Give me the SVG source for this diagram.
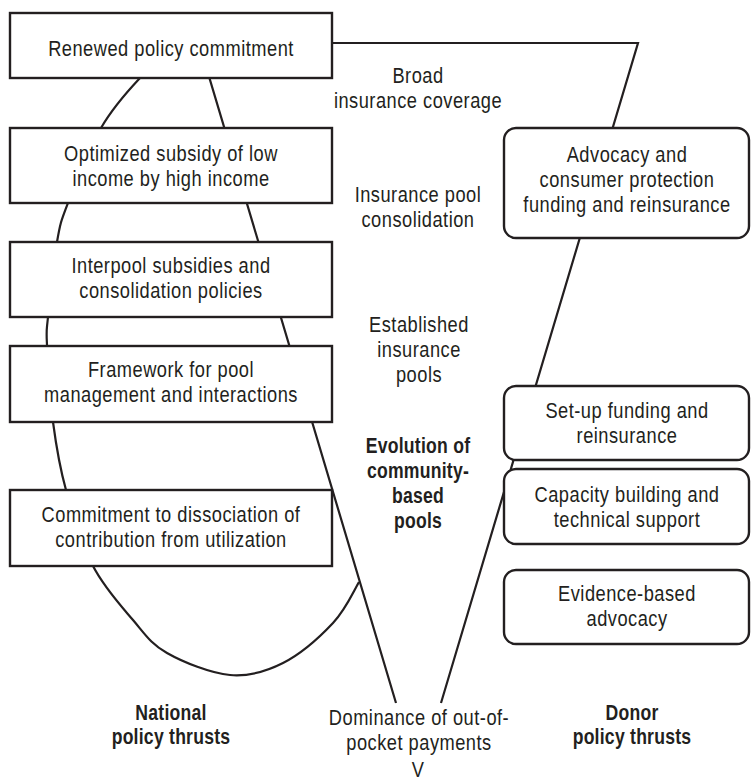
<svg xmlns="http://www.w3.org/2000/svg" width="752" height="780" viewBox="0 0 752 780">
  <style>
    .box { fill: #ffffff; stroke: #231f20; stroke-width: 2.4; }
    .line { fill: none; stroke: #231f20; stroke-width: 2.2; }
    text { font-family: "Liberation Sans", Arial, sans-serif; font-size: 22px; fill: #231f20; text-anchor: middle; letter-spacing: 0.6px;
           transform-box: fill-box; transform-origin: center; transform: scaleX(0.83); }
    .b { font-weight: bold; letter-spacing: 0.3px; transform: scaleX(0.8); }
  </style>
  <rect width="752" height="780" fill="#ffffff"/>

  <!-- connectors: the funnel and the national-policy oval -->
  <g id="connectors">
    <path id="funnel" class="line" d="M396 703 L199 43 L638 43 L441 703"/>
    <path id="oval" class="line" d="M170 55 C160.8 61.3 151.5 65.8 140 78 C128.5 90.2 113 107.2 101 128 C89 148.8 75.3 184 68 203 C60.7 222 60.3 223 57 242 C53.7 261 49.7 299.8 48 317 C46.3 334.2 46.2 327.5 47 345 C47.8 362.5 49.8 397.8 53 422 C56.2 446.2 59.3 466 66 490 C72.7 514 81.8 544.3 93 566 C104.2 587.7 120.7 605.5 133 620 C145.3 634.5 150.8 643.8 167 653 C183.2 662.2 210.7 673.3 230 675 C249.3 676.7 265.8 671.7 283 663 C300.2 654.3 320.3 636.5 333 623 C345.7 609.5 352.5 593.3 359 582"/>
  </g>

  <!-- national policy thrusts -->
  <g id="renewed">
    <rect class="box" x="10" y="13" width="322" height="65"/>
    <text x="171" y="56">Renewed policy commitment</text>
  </g>
  <g id="optimized">
    <rect class="box" x="10" y="128" width="322" height="75"/>
    <text x="171" y="161">Optimized subsidy of low</text>
    <text x="171" y="186">income by high income</text>
  </g>
  <g id="interpool">
    <rect class="box" x="10" y="242" width="322" height="75"/>
    <text x="171" y="273">Interpool subsidies and</text>
    <text x="171" y="298">consolidation policies</text>
  </g>
  <g id="framework">
    <rect class="box" x="10" y="346" width="322" height="76"/>
    <text x="171" y="377">Framework for pool</text>
    <text x="171" y="402">management and interactions</text>
  </g>
  <g id="commitment">
    <rect class="box" x="10" y="490" width="322" height="76"/>
    <text x="171" y="522">Commitment to dissociation of</text>
    <text x="171" y="547">contribution from utilization</text>
  </g>

  <!-- donor policy thrusts -->
  <g id="advocacy">
    <rect class="box" x="504" y="128" width="245" height="110" rx="12"/>
    <text x="627" y="162">Advocacy and</text>
    <text x="627" y="187">consumer protection</text>
    <text x="627" y="212">funding and reinsurance</text>
  </g>
  <g id="setup">
    <rect class="box" x="504" y="386" width="245" height="74" rx="12"/>
    <text x="627" y="418">Set-up funding and</text>
    <text x="627" y="443">reinsurance</text>
  </g>
  <g id="capacity">
    <rect class="box" x="504" y="469" width="245" height="75" rx="12"/>
    <text x="627" y="502">Capacity building and</text>
    <text x="627" y="527">technical support</text>
  </g>
  <g id="evidence">
    <rect class="box" x="504" y="570" width="245" height="74" rx="12"/>
    <text x="627" y="601">Evidence-based</text>
    <text x="627" y="626">advocacy</text>
  </g>

  <!-- stages of the funnel -->
  <g id="stage-broad">
    <text x="418" y="83">Broad</text>
    <text x="418" y="108">insurance coverage</text>
  </g>
  <g id="stage-consolidation">
    <text x="418" y="202">Insurance pool</text>
    <text x="418" y="227">consolidation</text>
  </g>
  <g id="stage-established">
    <text x="419" y="332">Established</text>
    <text x="419" y="357">insurance</text>
    <text x="419" y="382">pools</text>
  </g>
  <g id="stage-evolution">
    <text class="b" x="418" y="453">Evolution of</text>
    <text class="b" x="418" y="478">community-</text>
    <text class="b" x="418" y="503">based</text>
    <text class="b" x="418" y="528">pools</text>
  </g>
  <g id="stage-dominance">
    <text x="419" y="725">Dominance of out-of-</text>
    <text x="419" y="750">pocket payments</text>
    <text x="418" y="777">V</text>
  </g>

  <!-- column captions -->
  <g id="caption-national">
    <text class="b" x="171" y="720">National</text>
    <text class="b" x="171" y="744">policy thrusts</text>
  </g>
  <g id="caption-donor">
    <text class="b" x="632" y="720">Donor</text>
    <text class="b" x="632" y="744">policy thrusts</text>
  </g>
</svg>
